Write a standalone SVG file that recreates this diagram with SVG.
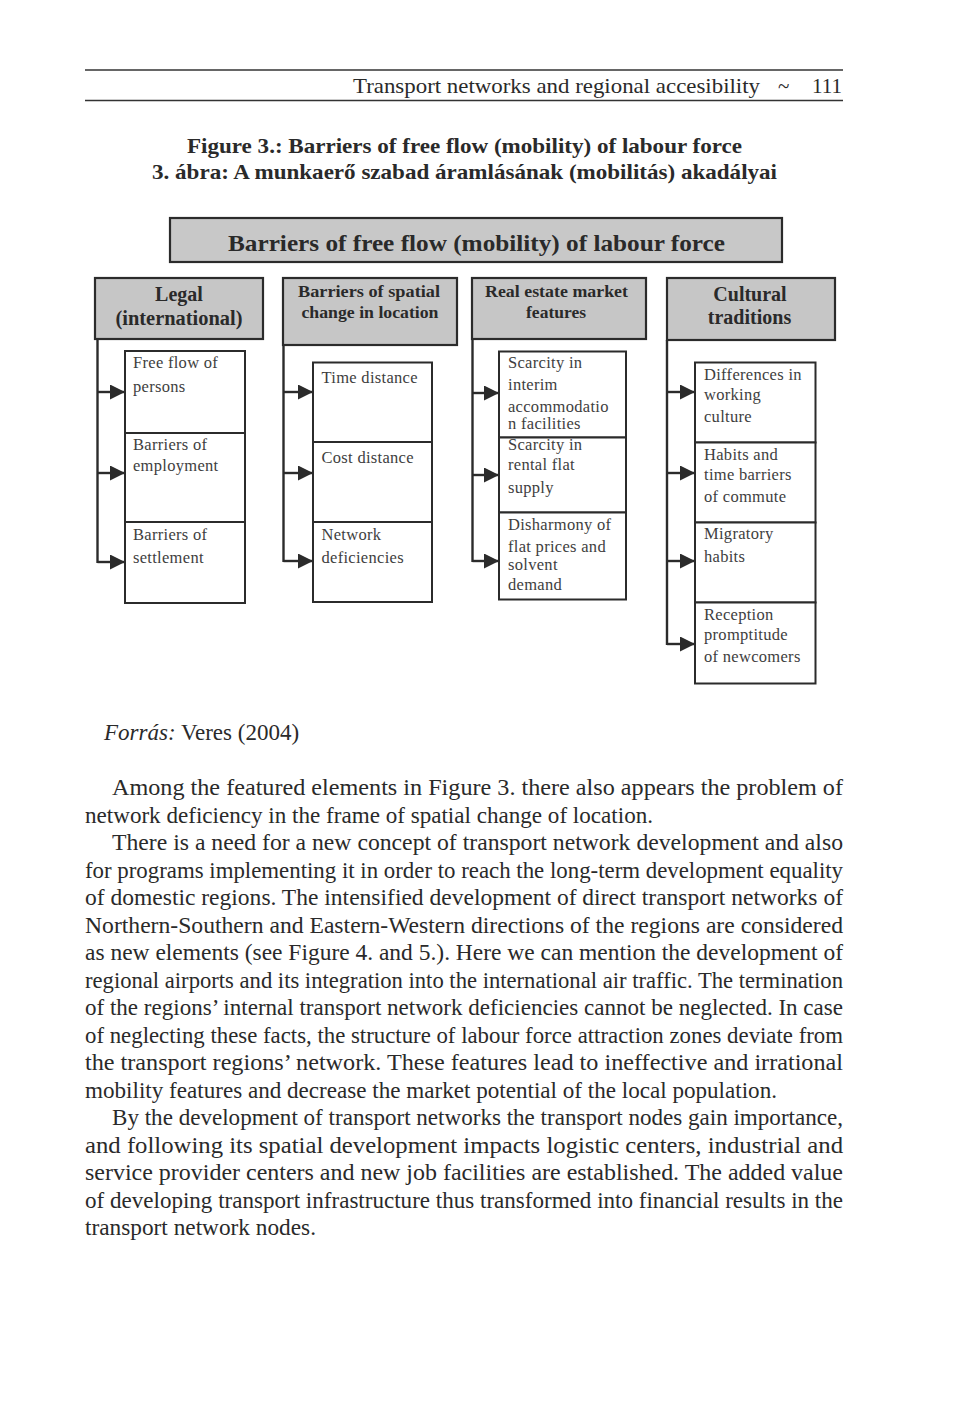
<svg xmlns="http://www.w3.org/2000/svg" width="960" height="1402" viewBox="0 0 960 1402">
<defs>
<style>
.page{fill:#ffffff}
.rule{stroke:#333;stroke-width:1.6}
.run{font-family:"Liberation Serif",serif;font-size:21px;fill:#2a2a2a}
.ftitle{font-family:"Liberation Serif",serif;font-size:21px;font-weight:bold;fill:#2a2a2a;text-anchor:middle}
.tbox{fill:#c8c8c8;stroke:#2b2b2b;stroke-width:2.2}
.ttext{font-family:"Liberation Serif",serif;font-size:24px;font-weight:bold;fill:#2a2a2a;text-anchor:middle}
.hbox{fill:#c6c6c6;stroke:#2b2b2b;stroke-width:2.2}
.hbig{font-family:"Liberation Serif",serif;font-size:20px;font-weight:bold;fill:#2a2a2a;text-anchor:middle}
.hsm{font-family:"Liberation Serif",serif;font-size:17.5px;font-weight:bold;fill:#2a2a2a;text-anchor:middle}
.box{fill:#ffffff;stroke:#2b2b2b;stroke-width:2}
.bt{font-family:"Liberation Serif",serif;font-size:16.5px;fill:#3e3e3e;letter-spacing:0.3px}
.conn{stroke:#2b2b2b;stroke-width:2.4;fill:none}
.body{font-family:"Liberation Serif",serif;font-size:23px;fill:#2a2a2a}
</style>
<marker id="ah" viewBox="0 0 15 15" refX="15" refY="7.5" markerWidth="15" markerHeight="15" markerUnits="userSpaceOnUse" orient="auto">
<path d="M0,0 L15,7.5 L0,15 z" fill="#2b2b2b"/>
</marker>
</defs>
<rect class="page" x="0" y="0" width="960" height="1402"/>

<g id="running-header">
<line class="rule" x1="85" y1="70" x2="843" y2="70"/>
<line class="rule" x1="85" y1="100.5" x2="843" y2="100.5"/>
<text class="run" x="353" y="93" textLength="407" lengthAdjust="spacingAndGlyphs">Transport networks and regional accesibility</text>
<text class="run" x="778" y="93">~</text>
<text class="run" x="812" y="93" textLength="30" lengthAdjust="spacingAndGlyphs">111</text>
</g>

<g id="figure-title">
<text class="ftitle" x="464.5" y="153" textLength="555" lengthAdjust="spacingAndGlyphs">Figure 3.: Barriers of free flow (mobility) of labour force</text>
<text class="ftitle" x="464.5" y="179" textLength="625" lengthAdjust="spacingAndGlyphs">3. ábra: A munkaerő szabad áramlásának (mobilitás) akadályai</text>
</g>

<g id="root">
<rect class="tbox" x="170" y="218" width="612" height="44"/>
<text class="ttext" x="476.5" y="251" textLength="497" lengthAdjust="spacingAndGlyphs">Barriers of free flow (mobility) of labour force</text>
</g>

<g id="h-legal">
<rect class="hbox" x="95" y="278" width="168" height="61"/>
<text class="hbig" x="179" y="301">Legal</text>
<text class="hbig" x="179" y="325" textLength="127" lengthAdjust="spacingAndGlyphs">(international)</text>
</g>
<g id="h-spatial">
<rect class="hbox" x="283" y="278" width="174" height="67"/>
<text class="hsm" x="369" y="297" textLength="142" lengthAdjust="spacingAndGlyphs">Barriers of spatial</text>
<text class="hsm" x="370" y="318" textLength="137" lengthAdjust="spacingAndGlyphs">change in location</text>
</g>
<g id="h-realestate">
<rect class="hbox" x="472" y="278" width="174" height="61"/>
<text class="hsm" x="556.5" y="297" textLength="143" lengthAdjust="spacingAndGlyphs">Real estate market</text>
<text class="hsm" x="556" y="318">features</text>
</g>
<g id="h-cultural">
<rect class="hbox" x="667" y="278" width="168" height="62"/>
<text class="hbig" x="750" y="301">Cultural</text>
<text class="hbig" x="749.5" y="324">traditions</text>
</g>

<g id="connectors">
<path class="conn" d="M97.5,339 V563"/>
<path class="conn" d="M97.5,392 H125" marker-end="url(#ah)"/>
<path class="conn" d="M97.5,473 H125" marker-end="url(#ah)"/>
<path class="conn" d="M97.5,562 H125" marker-end="url(#ah)"/>
<path class="conn" d="M283.5,345 V562"/>
<path class="conn" d="M283.5,392 H313" marker-end="url(#ah)"/>
<path class="conn" d="M283.5,473 H313" marker-end="url(#ah)"/>
<path class="conn" d="M283.5,561 H313" marker-end="url(#ah)"/>
<path class="conn" d="M472.5,339 V562"/>
<path class="conn" d="M472.5,393 H499" marker-end="url(#ah)"/>
<path class="conn" d="M472.5,475 H499" marker-end="url(#ah)"/>
<path class="conn" d="M472.5,561 H499" marker-end="url(#ah)"/>
<path class="conn" d="M667,340 V645"/>
<path class="conn" d="M667,392 H695" marker-end="url(#ah)"/>
<path class="conn" d="M667,473 H695" marker-end="url(#ah)"/>
<path class="conn" d="M667,561 H695" marker-end="url(#ah)"/>
<path class="conn" d="M667,644 H695" marker-end="url(#ah)"/>
</g>

<g id="n-free-flow">
<rect class="box" x="125" y="351" width="120" height="82"/>
<text class="bt" x="133" y="368">Free flow of</text>
<text class="bt" x="133" y="392">persons</text>
</g>
<g id="n-employment">
<rect class="box" x="125" y="433" width="120" height="89"/>
<text class="bt" x="133" y="450">Barriers of</text>
<text class="bt" x="133" y="471">employment</text>
</g>
<g id="n-settlement">
<rect class="box" x="125" y="522" width="120" height="81"/>
<text class="bt" x="133" y="540">Barriers of</text>
<text class="bt" x="133" y="563">settlement</text>
</g>

<g id="n-time">
<rect class="box" x="313" y="362.5" width="119" height="79.5"/>
<text class="bt" x="321.5" y="383">Time distance</text>
</g>
<g id="n-cost">
<rect class="box" x="313" y="442" width="119" height="80"/>
<text class="bt" x="321.5" y="463">Cost distance</text>
</g>
<g id="n-network">
<rect class="box" x="313" y="522" width="119" height="80"/>
<text class="bt" x="321.5" y="540">Network</text>
<text class="bt" x="321.5" y="563">deficiencies</text>
</g>

<g id="n-interim">
<rect class="box" x="499" y="351.5" width="127" height="86"/>
<text class="bt" x="508" y="368">Scarcity in</text>
<text class="bt" x="508" y="390">interim</text>
<text class="bt" x="508" y="411.5">accommodatio</text>
<text class="bt" x="508" y="428.5">n facilities</text>
</g>
<g id="n-rental">
<rect class="box" x="499" y="437.5" width="127" height="75"/>
<text class="bt" x="508" y="450">Scarcity in</text>
<text class="bt" x="508" y="470">rental flat</text>
<text class="bt" x="508" y="493">supply</text>
</g>
<g id="n-disharmony">
<rect class="box" x="499" y="512.5" width="127" height="87"/>
<text class="bt" x="508" y="530">Disharmony of</text>
<text class="bt" x="508" y="551.5">flat prices and</text>
<text class="bt" x="508" y="570">solvent</text>
<text class="bt" x="508" y="590">demand</text>
</g>

<g id="n-working-culture">
<rect class="box" x="695" y="362.5" width="120.5" height="80"/>
<text class="bt" x="704" y="380">Differences in</text>
<text class="bt" x="704" y="400">working</text>
<text class="bt" x="704" y="421.5">culture</text>
</g>
<g id="n-commute">
<rect class="box" x="695" y="442.5" width="120.5" height="80"/>
<text class="bt" x="704" y="460">Habits and</text>
<text class="bt" x="704" y="480">time barriers</text>
<text class="bt" x="704" y="501.5">of commute</text>
</g>
<g id="n-migratory">
<rect class="box" x="695" y="522.5" width="120.5" height="80"/>
<text class="bt" x="704" y="538.5">Migratory</text>
<text class="bt" x="704" y="561.5">habits</text>
</g>
<g id="n-reception">
<rect class="box" x="695" y="602.5" width="120.5" height="81"/>
<text class="bt" x="704" y="620">Reception</text>
<text class="bt" x="704" y="640">promptitude</text>
<text class="bt" x="704" y="661.5">of newcomers</text>
</g>

<g id="source">
<text class="body" x="104" y="740"><tspan font-style="italic">Forrás:</tspan> Veres (2004)</text>
</g>

<g id="body-text">
<text class="body" x="112" y="795" textLength="731" lengthAdjust="spacingAndGlyphs">Among the featured elements in Figure 3. there also appears the problem of</text>
<text class="body" x="85" y="822.5" textLength="568" lengthAdjust="spacingAndGlyphs">network deficiency in the frame of spatial change of location.</text>
<text class="body" x="112" y="850" textLength="731" lengthAdjust="spacingAndGlyphs">There is a need for a new concept of transport network development and also</text>
<text class="body" x="85" y="877.5" textLength="758" lengthAdjust="spacingAndGlyphs">for programs implementing it in order to reach the long-term development equality</text>
<text class="body" x="85" y="905" textLength="758" lengthAdjust="spacingAndGlyphs">of domestic regions. The intensified development of direct transport networks of</text>
<text class="body" x="85" y="932.5" textLength="758" lengthAdjust="spacingAndGlyphs">Northern-Southern and Eastern-Western directions of the regions are considered</text>
<text class="body" x="85" y="960" textLength="758" lengthAdjust="spacingAndGlyphs">as new elements (see Figure 4. and 5.). Here we can mention the development of</text>
<text class="body" x="85" y="987.5" textLength="758" lengthAdjust="spacingAndGlyphs">regional airports and its integration into the international air traffic. The termination</text>
<text class="body" x="85" y="1015" textLength="758" lengthAdjust="spacingAndGlyphs">of the regions’ internal transport network deficiencies cannot be neglected. In case</text>
<text class="body" x="85" y="1042.5" textLength="758" lengthAdjust="spacingAndGlyphs">of neglecting these facts, the structure of labour force attraction zones deviate from</text>
<text class="body" x="85" y="1070" textLength="758" lengthAdjust="spacingAndGlyphs">the transport regions’ network. These features lead to ineffective and irrational</text>
<text class="body" x="85" y="1097.5" textLength="692" lengthAdjust="spacingAndGlyphs">mobility features and decrease the market potential of the local population.</text>
<text class="body" x="112" y="1125" textLength="731" lengthAdjust="spacingAndGlyphs">By the development of transport networks the transport nodes gain importance,</text>
<text class="body" x="85" y="1152.5" textLength="758" lengthAdjust="spacingAndGlyphs">and following its spatial development impacts logistic centers, industrial and</text>
<text class="body" x="85" y="1180" textLength="758" lengthAdjust="spacingAndGlyphs">service provider centers and new job facilities are established. The added value</text>
<text class="body" x="85" y="1207.5" textLength="758" lengthAdjust="spacingAndGlyphs">of developing transport infrastructure thus transformed into financial results in the</text>
<text class="body" x="85" y="1235" textLength="231" lengthAdjust="spacingAndGlyphs">transport network nodes.</text>
</g>
</svg>
